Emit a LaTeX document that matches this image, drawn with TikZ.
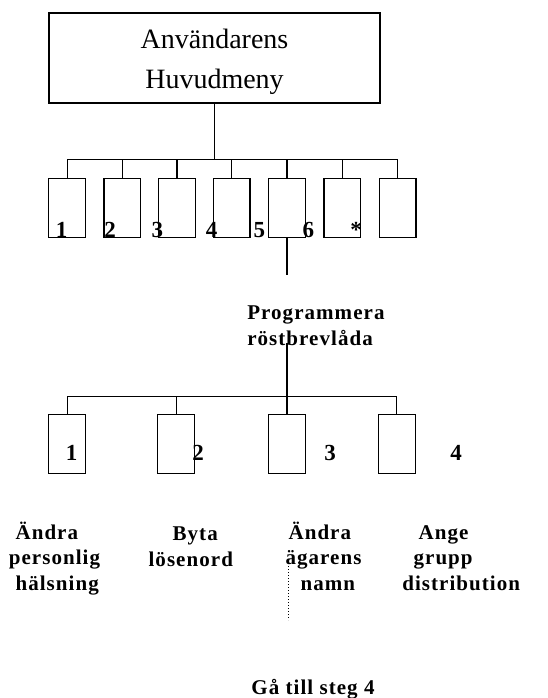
\documentclass[tikz,border=0pt]{standalone}
\usepackage{fontspec}
\setmainfont{Liberation Serif}
\usepackage{tikz}

\begin{document}
\begin{tikzpicture}[x=1pt, y=-1pt, line width=1.2pt,
        optbox/.style={draw, minimum width=36.7pt, minimum height=59pt, inner sep=0pt},
        num/.style={font=\fontsize{23}{23}\selectfont\bfseries, anchor=base, inner sep=0pt},
        opt/.style={font=\fontsize{21}{25.5}\selectfont\bfseries\addfontfeature{LetterSpace=5}, align=left, anchor=base west, inner sep=0pt}]
        \useasboundingbox (0,0) rectangle (547,698);

        \node[draw, minimum width=331pt, minimum height=90pt, align=center, font=\fontsize{28}{40}\selectfont] (huvud) at (214.5,58) {\rule{0pt}{28pt}Användarens\\Huvudmeny};

        \foreach \x [count=\i] in {67.1,122.3,177,231.6,287,342.3,397.6}
            \node[optbox] (m\i) at (\x,207.8) {};

        \coordinate (barA) at (67.1,159.5);
        \coordinate (barB) at (397.6,159.5);
        \draw (huvud.south) -- (huvud.south |- barA);
        \draw (barA) -- (barB);
        \foreach \i in {1,...,7}
            \draw (m\i.north) -- (m\i.north |- barA);

        \foreach \x/\t [count=\i] in {61.7/1,110/2,157.3/3,211.7/4,259.3/5,308.3/6,356/*}
            \node[num] (n\i) at (\x,237) {\t};

        \coordinate (m5end) at (287,275);
        \draw (m5.south) -- (m5end);

        \node[opt] (prog) at (246.7,345) {Programmera\\röstbrevlåda};

        \foreach \x [count=\i] in {67.1,176.2,287,396.8}
            \node[optbox] (p\i) at (\x,443.8) {};

        \coordinate (bar2A) at (67.1,396.7);
        \coordinate (bar2B) at (396.8,396.7);
        \coordinate (progline) at (287,343);
        \draw (progline) -- (p3.north);
        \draw (bar2A) -- (bar2B);
        \foreach \i in {1,2,4}
            \draw (p\i.north) -- (p\i.north |- bar2A);

        \foreach \x/\t [count=\i] in {71.7/1,198/2,330/3,456/4}
            \node[num] (q\i) at (\x,460) {\t};

        \node[opt] (l1) at (8.3,590) {\hspace{6.7pt}Ändra\\personlig\\\hspace{6.7pt}hälsning};
        \node[opt] (l2) at (148,566) {\hspace{24pt}Byta\\lösenord};
        \node[opt] (l3) at (285,590) {\hspace{3pt}Ändra\\ägarens\\\hspace{15pt}namn};
        \node[opt] (l4) at (401.7,590) {\hspace{16.3pt}Ange\\\hspace{11.3pt}grupp\\distribution};

        \coordinate (dotA) at (288.3,560);
        \coordinate (dotB) at (288.3,620);
        \draw[dotted, line width=1pt] (dotA) -- (dotB);

        \node[opt, anchor=base] (steg) at (313,694) {Gå till steg 4};
    \end{tikzpicture}
\end{document}
